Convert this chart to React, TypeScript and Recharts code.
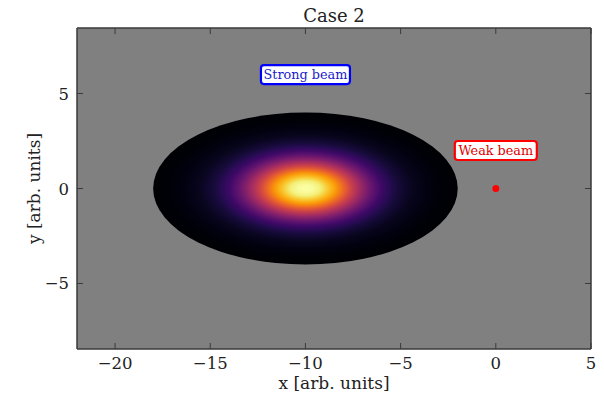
import React from 'react';
import {
  ScatterChart,
  Scatter,
  XAxis,
  YAxis,
  CartesianGrid,
  ReferenceArea,
  ReferenceDot,
  Label,
} from 'recharts';

// ---- data ----
const xDomain = [-22, 5];
const yDomain = [-8.45, 8.45];
const xTicks = [-20, -15, -10, -5, 0, 5];
const yTicks = [-5, 0, 5];
// strong beam: centre and semi-axes (arb. units)
const strongBeam = [{ x: -10, y: 0, rx: 8, ry: 4 }];
// weak beam: point
const weakBeam = [{ x: 0, y: 0 }];
// annotations
const annotationText = ['Strong beam', 'Weak beam'];
const annotationX = [-10, 0];
const annotationY = [6, 2];
const titleText = 'Case 2';
const xLabelText = 'x [arb. units]';
const yLabelText = 'y [arb. units]';

// ---- styles ----
const FONT = '"DejaVu Serif", serif';
const TEXT_COLOR = '#222';
const FRAME = '#3a3a3a';
const annotationStyles = [
  { stroke: '#0000ff', text: '#1a1acc', w: 89, h: 19 },
  { stroke: '#ff0000', text: '#e00000', w: 82, h: 19 },
];
// inferno-like radial stops for a gaussian profile
const gradientStops: [number, string][] = [
  [0, '#fcffa4'],
  [0.05, '#f9fb9c'],
  [0.1, '#f3ef78'],
  [0.15, '#f9c62d'],
  [0.2, '#fa9a07'],
  [0.25, '#ec6727'],
  [0.3, '#cc4248'],
  [0.35, '#a62d60'],
  [0.4, '#7e1e6c'],
  [0.45, '#5b126e'],
  [0.5, '#3e0966'],
  [0.55, '#280b54'],
  [0.6, '#170b3b'],
  [0.7, '#08051d'],
  [0.8, '#020110'],
  [0.9, '#000107'],
  [1, '#000004'],
];

const fmt = (v: number) => (v < 0 ? `\u2212${Math.abs(v)}` : `${v}`);
const TICK_LEN = 6;

const BottomTick = (props: any) => {
  const { x, y, payload } = props;
  return (
    <g>
      <line x1={x} y1={y} x2={x} y2={y - TICK_LEN} stroke={FRAME} strokeWidth={1} />
      <text x={x} y={y + 20} textAnchor="middle" fontFamily={FONT} fontSize={16.5} fill={TEXT_COLOR}>
        {fmt(payload.value)}
      </text>
    </g>
  );
};
const TopTick = (props: any) => {
  const { x, y } = props;
  return <line x1={x} y1={y} x2={x} y2={y + TICK_LEN} stroke={FRAME} strokeWidth={1} />;
};
const LeftTick = (props: any) => {
  const { x, y, payload } = props;
  return (
    <g>
      <line x1={x} y1={y} x2={x + TICK_LEN} y2={y} stroke={FRAME} strokeWidth={1} />
      <text x={x - 8} y={y + 6} textAnchor="end" fontFamily={FONT} fontSize={16.5} fill={TEXT_COLOR}>
        {fmt(payload.value)}
      </text>
    </g>
  );
};
const RightTick = (props: any) => {
  const { x, y } = props;
  return <line x1={x} y1={y} x2={x - TICK_LEN} y2={y} stroke={FRAME} strokeWidth={1} />;
};

const EllipseShape = (props: any) => {
  const { x, y, width, height } = props;
  return (
    <g>
      <defs>
        <radialGradient id="beamGrad" cx="50%" cy="50%" r="50%">
          {gradientStops.map(([o, c], i) => (
            <stop key={i} offset={`${o * 100}%`} stopColor={c} />
          ))}
        </radialGradient>
      </defs>
      <ellipse cx={x + width / 2} cy={y + height / 2} rx={width / 2} ry={height / 2} fill="url(#beamGrad)" />
    </g>
  );
};

const makeBox = (i: number) => (props: any) => {
  const { cx, cy } = props;
  const s = annotationStyles[i];
  return (
    <g>
      <rect
        x={cx - s.w / 2}
        y={cy - s.h / 2}
        width={s.w}
        height={s.h}
        rx={3}
        ry={3}
        fill="#ffffff"
        stroke={s.stroke}
        strokeWidth={2.2}
      />
      <text x={cx} y={cy + 4.5} textAnchor="middle" fontFamily={FONT} fontSize={12.8} fill={s.text}>
        {annotationText[i]}
      </text>
    </g>
  );
};

const RedDot = (props: any) => {
  const { cx, cy } = props;
  return <circle cx={cx} cy={cy} r={3.5} fill="#ff0000" />;
};

export default function App() {
  const b = strongBeam[0];
  return (
    <div style={{ position: 'absolute', left: 0, top: 0 }}>
      <ScatterChart width={604} height={397} margin={{ top: 27, right: 12, left: 0, bottom: 0 }}>
        <CartesianGrid fill="#808080" horizontal={false} vertical={false} />
        <XAxis
          xAxisId="b"
          type="number"
          dataKey="x"
          domain={xDomain}
          ticks={xTicks}
          interval={0}
          allowDataOverflow
          height={48}
          tickSize={0}
          tickMargin={0}
          tick={<BottomTick />}
          axisLine={{ stroke: FRAME, strokeWidth: 1.5 }}
        >
          <Label
            content={(p: any) => {
              const vb = p.viewBox;
              return (
                <text x={vb.x + vb.width / 2} y={vb.y + 40} textAnchor="middle" fontFamily={FONT} fontSize={17} fill={TEXT_COLOR}>
                  {xLabelText}
                </text>
              );
            }}
          />
        </XAxis>
        <XAxis
          xAxisId="t"
          orientation="top"
          type="number"
          dataKey="x"
          domain={xDomain}
          ticks={xTicks}
          interval={0}
          allowDataOverflow
          height={1}
          tickSize={0}
          tickMargin={0}
          tick={<TopTick />}
          axisLine={{ stroke: FRAME, strokeWidth: 1.5 }}
        >
          <Label
            content={(p: any) => {
              const vb = p.viewBox;
              return (
                <text x={vb.x + vb.width / 2} y={vb.y - 5} textAnchor="middle" fontFamily={FONT} fontSize={18} fill={TEXT_COLOR}>
                  {titleText}
                </text>
              );
            }}
          />
        </XAxis>
        <YAxis
          yAxisId="l"
          type="number"
          dataKey="y"
          domain={yDomain}
          ticks={yTicks}
          interval={0}
          allowDataOverflow
          width={77}
          tickSize={0}
          tickMargin={0}
          tick={<LeftTick />}
          axisLine={{ stroke: FRAME, strokeWidth: 1.5 }}
        >
          <Label
            content={(p: any) => {
              const vb = p.viewBox;
              const cx = vb.x + 40;
              const cy = vb.y + vb.height / 2;
              return (
                <text
                  x={cx}
                  y={cy}
                  transform={`rotate(-90 ${cx} ${cy})`}
                  textAnchor="middle"
                  fontFamily={FONT}
                  fontSize={17}
                  fill={TEXT_COLOR}
                >
                  {yLabelText}
                </text>
              );
            }}
          />
        </YAxis>
        <YAxis
          yAxisId="r"
          orientation="right"
          type="number"
          dataKey="y"
          domain={yDomain}
          ticks={yTicks}
          interval={0}
          allowDataOverflow
          width={1}
          tickSize={0}
          tickMargin={0}
          tick={<RightTick />}
          axisLine={{ stroke: FRAME, strokeWidth: 1.5 }}
        />
        <ReferenceArea
          xAxisId="b"
          yAxisId="l"
          x1={b.x - b.rx}
          x2={b.x + b.rx}
          y1={b.y - b.ry}
          y2={b.y + b.ry}
          shape={<EllipseShape />}
        />
        {annotationText.map((t, i) => (
          <ReferenceDot
            key={t}
            xAxisId="b"
            yAxisId="l"
            x={annotationX[i]}
            y={annotationY[i]}
            r={0}
            shape={makeBox(i)}
          />
        ))}
        <Scatter
          xAxisId="b"
          yAxisId="l"
          data={weakBeam}
          shape={<RedDot />}
          isAnimationActive={false}
        />
      </ScatterChart>
    </div>
  );
}
